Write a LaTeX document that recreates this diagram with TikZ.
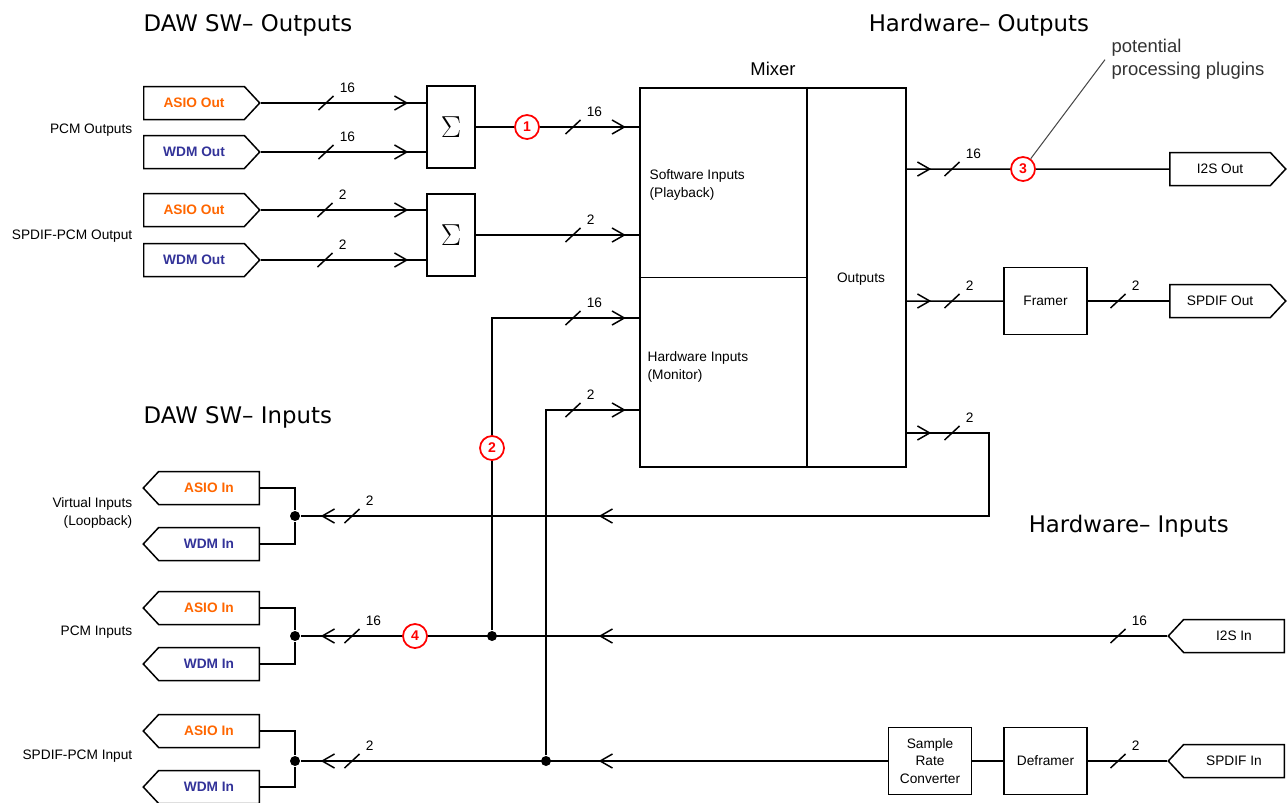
\documentclass[tikz,border=0pt]{standalone}
\usepackage{fontspec}
\setmainfont{Liberation Sans}
\newfontfamily\headfont{DejaVu Sans}
\usetikzlibrary{shapes.symbols,arrows.meta,decorations.markings}

\definecolor{asio}{RGB}{255,102,0}
\definecolor{wdm}{RGB}{51,51,153}

\tikzset{
  sm/.style={font=\fontsize{7.8}{9.8}\selectfont},
  tagout/.style={sm, draw, shape=signal, signal to=east, signal from=nowhere,
    signal pointer angle=94, minimum width=2.32cm, minimum height=0.66cm, inner sep=0pt},
  tagin/.style={tagout, signal to=west},
  sumbox/.style={draw, minimum width=0.96cm, minimum height=1.64cm, font=\fontsize{18}{20}\selectfont},
  blk/.style={sm, draw, minimum width=1.66cm, minimum height=1.34cm, align=center, inner sep=0pt},
  num/.style={circle, draw=red, line width=1pt, fill=white, text=red, minimum size=0.48cm,
    inner sep=0pt, font=\fontsize{8}{9}\selectfont\bfseries},
  jdot/.style={circle, fill, minimum size=0.2cm, inner sep=0pt},
  lbl/.style={sm, align=right, anchor=east, inner sep=0pt},
  hdr/.style={font=\headfont\fontsize{13}{15}\selectfont, anchor=base west, inner sep=0pt},
  ar/.style={postaction={decorate, decoration={markings,
    mark=at position #1 with {\arrow{Straight Barb[length=7pt,width=8pt]}}}}},
  bus/.pic={\draw (-7.5,7) -- (7.5,-7);
    \node[sm, anchor=west, inner sep=0pt] at (13,-15) {#1};}
}

\begin{document}
\begin{tikzpicture}[x=0.02cm, y=-0.02cm, line width=0.85pt] % pixel grid, y down
\useasboundingbox (0,0) rectangle (1287,802);

\node[hdr] (tSwOut) at (143,31) {DAW SW– Outputs};
\node[hdr] (tHwOut) at (868,31) {Hardware– Outputs};
\node[hdr] (tSwIn) at (143,423) {DAW SW– Inputs};
\node[hdr] (tHwIn) at (1028,532) {Hardware– Inputs};

% software outputs
\node[lbl] (lPO) at (133,130) {PCM Outputs};
\node[lbl] (lSO) at (133,236) {SPDIF-PCM Output};
\node[tagout, anchor=west, text=asio] (asioPO) at (143,103) {\textbf{ASIO Out}};
\node[tagout, anchor=west, text=wdm] (wdmPO) at (143,152) {\textbf{WDM Out}};
\node[tagout, anchor=west, text=asio] (asioSO) at (143,210) {\textbf{ASIO Out}};
\node[tagout, anchor=west, text=wdm] (wdmSO) at (143,260) {\textbf{WDM Out}};
\node[sumbox] (sumP) at (451,127) {$\Sigma$};
\node[sumbox] (sumS) at (451,235) {$\Sigma$};

\draw[ar=-0.36cm] (asioPO.east) -- (sumP.west |- asioPO.east);
\draw[ar=-0.36cm] (wdmPO.east) -- (sumP.west |- wdmPO.east);
\draw[ar=-0.36cm] (asioSO.east) -- (sumS.west |- asioSO.east);
\draw[ar=-0.36cm] (wdmSO.east) -- (sumS.west |- wdmSO.east);
\pic at (326,103) {bus=16};
\pic at (326,152) {bus=16};
\pic at (325,210) {bus=2};
\pic at (325,260) {bus=2};

% mixer
\node[draw, line width=1.4pt, minimum width=5.32cm, minimum height=7.58cm] (mix) at (773,277.5) {};
\node[font=\fontsize{10.5}{12}\selectfont, anchor=base] (mixT) at (773,75) {Mixer};
\draw ([xshift=3.36cm]mix.north west) -- ([xshift=3.36cm]mix.south west);
\draw (mix.west) -- ([xshift=3.36cm]mix.west);
\node[sm, align=left, anchor=west] (swIn) at (643,185) {Software Inputs\\(Playback)};
\node[sm, align=left, anchor=west] (hwIn) at (641,367) {Hardware Inputs\\(Monitor)};
\node[sm] (outs) at (861,279) {Outputs};

\draw[ar=-0.26cm] (sumP.east) -- (sumP.east -| mix.west);
\draw[ar=-0.26cm] (sumS.east) -- (sumS.east -| mix.west);
\pic at (573,127) {bus=16};
\pic at (573,235) {bus=2};
\node[num] (n1) at (527,127) {1};

% hardware outputs
\node[tagout, anchor=west] (i2sout) at (1169,169) {I2S Out};
\node[tagout, anchor=west] (spdifout) at (1169,301) {SPDIF Out};
\node[blk] (framer) at (1045.5,301) {Framer};
\draw[ar=0.48cm] ([yshift=2.17cm]mix.east) -- (i2sout.west);
\draw[ar=0.48cm] ([yshift=-0.47cm]mix.east) -- (framer);
\draw (framer) -- (spdifout.west);
\pic at (952,169) {bus=16};
\pic at (952,301) {bus=2};
\pic at (1118,301) {bus=2};
\node[num] (n3) at (1023,169) {3};
\node[font=\fontsize{10.5}{13}\selectfont, align=left, anchor=north west, text=black!80] (plug) at (1105,33) {potential\\processing plugins};
\draw[black!70, line width=0.6pt] (n3) -- (plug.west);

% software inputs
\node[lbl] (lVI) at (133,513) {Virtual Inputs\\(Loopback)};
\node[lbl] (lPI) at (133,632) {PCM Inputs};
\node[lbl] (lSI) at (133,756) {SPDIF-PCM Input};
\node[tagin, anchor=east, text=asio] (asioVI) at (260,488) {\textbf{ASIO In}};
\node[tagin, anchor=east, text=wdm] (wdmVI) at (260,544) {\textbf{WDM In}};
\node[tagin, anchor=east, text=asio] (asioPI) at (260,608) {\textbf{ASIO In}};
\node[tagin, anchor=east, text=wdm] (wdmPI) at (260,664) {\textbf{WDM In}};
\node[tagin, anchor=east, text=asio] (asioSI) at (260,731) {\textbf{ASIO In}};
\node[tagin, anchor=east, text=wdm] (wdmSI) at (260,787) {\textbf{WDM In}};
\node[jdot] (jV) at (295,516) {};
\node[jdot] (jP) at (295,636) {};
\node[jdot] (jS) at (295,761) {};
\foreach \a/\j in {asioVI/jV, wdmVI/jV, asioPI/jP, wdmPI/jP, asioSI/jS, wdmSI/jS}
  \draw (\a.east) -| (\j);

% hardware inputs
\node[tagin, anchor=east] (i2sin) at (1285,636) {I2S In};
\node[tagin, anchor=east] (spdifin) at (1285,761) {SPDIF In};
\node[blk] (src) at (930,761) {Sample\\Rate\\Converter};
\node[blk] (defr) at (1045.5,761) {Deframer};
\node[jdot] (dotP) at (492,636) {};
\node[jdot] (dotS) at (546,761) {};

\draw[ar=0.48cm, ar=-5.96cm, ar=-0.4cm] ([yshift=-3.11cm]mix.east) -- ++(82,0) |- (jV);
\draw[ar=-5.96cm, ar=-0.4cm] (i2sin.west) -- (jP);
\draw (spdifin.west) -- (defr);
\draw (defr) -- (src);
\draw[ar=-5.96cm, ar=-0.4cm] (src) -- (jS);
\draw[ar=-0.26cm] (dotP) |- ([yshift=-0.81cm]mix.west);
\draw[ar=-0.26cm] (dotS) |- ([yshift=-2.65cm]mix.west);
\pic at (952,433) {bus=2};
\pic at (352,516) {bus=2};
\pic at (352,636) {bus=16};
\pic at (352,761) {bus=2};
\pic at (1118,636) {bus=16};
\pic at (1118,761) {bus=2};
\pic at (573,318) {bus=16};
\pic at (573,410) {bus=2};
\node[num] (n2) at (492,448) {2};
\node[num] (n4) at (415,636) {4};
\end{tikzpicture}
\end{document}
